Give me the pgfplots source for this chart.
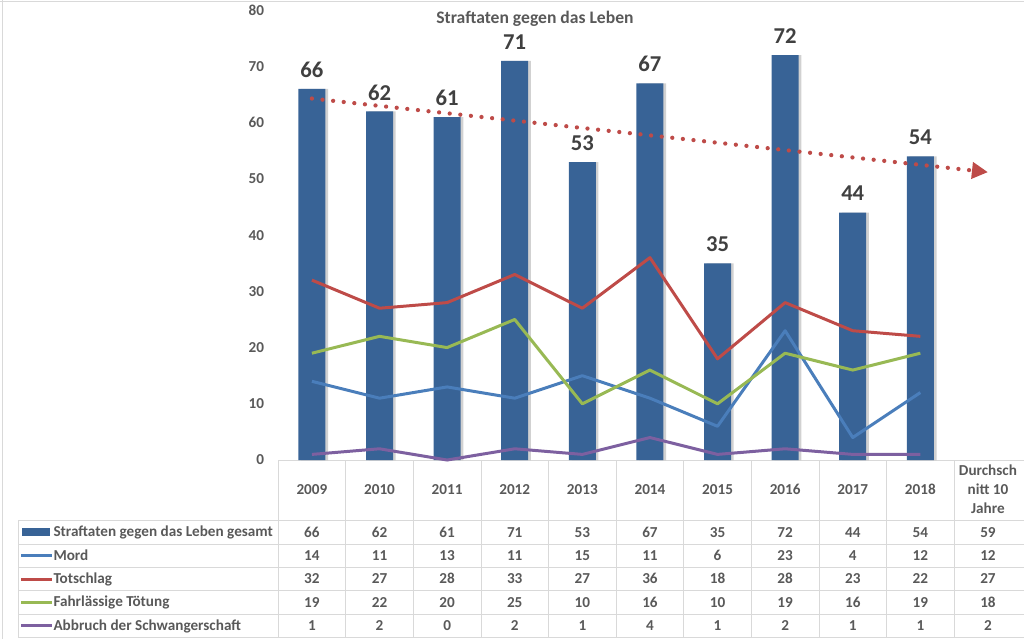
\documentclass[border=0pt]{standalone}
\usepackage{pgfplots}
\pgfplotsset{compat=1.18}
\usepackage{fontspec}
\setmainfont{Carlito}
\usetikzlibrary{arrows.meta,shadows}
\definecolor{barblue}{HTML}{386396}
\definecolor{mord}{HTML}{4A7EBB}
\definecolor{tot}{HTML}{BE4B48}
\definecolor{fahr}{HTML}{98B954}
\definecolor{abb}{HTML}{7D60A0}
\definecolor{txt}{HTML}{595959}
\definecolor{lbl}{HTML}{404040}
\definecolor{gridc}{HTML}{D9D9D9}
\newcommand{\tfont}{\fontsize{11.4}{14.25}\selectfont\bfseries}
\begin{document}
\begin{tikzpicture}
\begin{scope}[x=0.75pt,y=-0.75pt,shift={(0pt,479.25pt)}]
  \path (0,0) rectangle (1024,639);
  \draw[gridc] (2,0) -- (2,639);
  \draw[gridc] (0,1) -- (1024,1);
  % table grid
  \draw[gridc] (278,460) -- (1024,460);
  \foreach \y in {520.5,544.3,567.7,590.5,614.3,637.7} \draw[gridc] (18,\y) -- (1024,\y);
  \draw[gridc] (18,520.5) -- (18,637.7);
  \foreach \i in {0,...,10} \draw[gridc] ({278+67.64*\i},460) -- ({278+67.64*\i},637.7);
  \tikzset{tt/.style={font=\tfont, text=txt, text height=7.2pt, text depth=0pt, anchor=center, inner sep=0pt}}
  % header
  \foreach \v [count=\i from 0] in {2009,2010,2011,2012,2013,2014,2015,2016,2017,2018}
    \node[tt] at ({278+67.64*(\i+0.5)},490) {\v};
  \node[font=\tfont, text=txt, align=center, inner sep=0pt] at ({278+67.64*10.5},489) {Durchsch\\nitt 10\\Jahre};
  % rows
  \foreach \v [count=\i from 0] in {66,62,61,71,53,67,35,72,44,54,59}
    \node[tt] at ({278+67.64*(\i+0.5)},532.4) {\v};
  \foreach \v [count=\i from 0] in {14,11,13,11,15,11,6,23,4,12,12}
    \node[tt] at ({278+67.64*(\i+0.5)},556) {\v};
  \foreach \v [count=\i from 0] in {32,27,28,33,27,36,18,28,23,22,27}
    \node[tt] at ({278+67.64*(\i+0.5)},579.1) {\v};
  \foreach \v [count=\i from 0] in {19,22,20,25,10,16,10,19,16,19,18}
    \node[tt] at ({278+67.64*(\i+0.5)},602.4) {\v};
  \foreach \v [count=\i from 0] in {1,2,0,2,1,4,1,2,1,1,2}
    \node[tt] at ({278+67.64*(\i+0.5)},626) {\v};
  % legend keys and names
  \fill[barblue] (22,528.5) rectangle (50,536.5);
  \draw[mord, line width=2.25pt] (21,556) -- (52,556);
  \draw[tot, line width=2.25pt] (21,579.1) -- (52,579.1);
  \draw[fahr, line width=2.25pt] (21,602.4) -- (52,602.4);
  \draw[abb, line width=2.25pt] (21,626) -- (52,626);
  \tikzset{tl/.style={font=\tfont, text=txt, text height=7.2pt, text depth=1.8pt, anchor=west, inner sep=0pt}}
  \node[tl] at (53,533.3) {Straftaten gegen das Leben gesamt};
  \node[tl] at (53,556.9) {Mord};
  \node[tl] at (53,580) {Totschlag};
  \node[tl] at (53,603.3) {Fahrlässige Tötung};
  \node[tl] at (53,626.9) {Abbruch der Schwangerschaft};
  % title
  \node[font=\fontsize{13.2}{15}\selectfont\bfseries, text=txt] at (535,19) {Straftaten gegen das Leben};
\end{scope}
\begin{axis}[
  at={(208.5pt,134.25pt)}, anchor=south west,
  scale only axis, width=558pt, height=337.5pt,
  xmin=-0.5, xmax=10.5, ymin=0, ymax=80,
  axis line style={draw=none}, major tick length=0pt,
  xtick=\empty,
  ytick={0,10,20,30,40,50,60,70,80},
  yticklabels={0,10,20,30,40,50,60,70,80},
  yticklabel style={font=\tfont, text=txt, anchor=east, xshift=-7pt},
  /pgf/number format/assume math mode=true,
  clip=false,
]
\addplot[ybar, bar width=20.25pt, fill=barblue, draw=none,
  drop shadow={shadow xshift=2pt, shadow yshift=0pt, opacity=0.18, fill=black},
  nodes near coords,
  nodes near coords style={font=\fontsize{17}{18}\selectfont\bfseries, text=lbl, anchor=center, yshift=14.3pt}]
  coordinates {(0,66) (1,62) (2,61) (3,71) (4,53) (5,67) (6,35) (7,72) (8,44) (9,54)};
\addplot[mord, line width=2.25pt, line join=round, mark=none]
  coordinates {(0,14) (1,11) (2,13) (3,11) (4,15) (5,11) (6,6) (7,23) (8,4) (9,12)};
\addplot[tot, line width=2.25pt, line join=round, mark=none]
  coordinates {(0,32) (1,27) (2,28) (3,33) (4,27) (5,36) (6,18) (7,28) (8,23) (9,22)};
\addplot[fahr, line width=2.25pt, line join=round, mark=none]
  coordinates {(0,19) (1,22) (2,20) (3,25) (4,10) (5,16) (6,10) (7,19) (8,16) (9,19)};
\addplot[abb, line width=2.25pt, line join=round, mark=none]
  coordinates {(0,1) (1,2) (2,0) (3,2) (4,1) (5,4) (6,1) (7,2) (8,1) (9,1)};
\addplot[tot, line width=3.2pt, line cap=round, dash pattern=on 0pt off 8pt,
  -{Triangle[length=12pt,width=12pt]}]
  coordinates {(0,64.3) (10,51.2)};
\end{axis}
\end{tikzpicture}
\end{document}
